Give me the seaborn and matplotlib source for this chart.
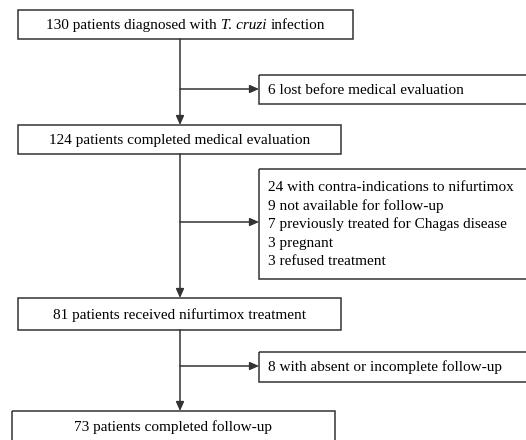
import seaborn as sns
import matplotlib.pyplot as plt
from matplotlib.patches import Rectangle

# counts in each stage of the flow
main_counts = [130, 124, 81, 73]
# each label is a list of (text, italic) pieces, joined by spaces
main_labels = [
    [("130 patients diagnosed with", False), ("T. cruzi", True), ("infection", False)],
    [("124 patients completed medical evaluation", False)],
    [("81 patients received nifurtimox treatment", False)],
    [("73 patients completed follow-up", False)],
]
excluded_counts = [[6], [24, 9, 7, 3, 3], [8]]
excluded_reasons = [
    ["lost before medical evaluation"],
    ["with contra-indications to nifurtimox",
     "not available for follow-up",
     "previously treated for Chagas disease",
     "pregnant",
     "refused treatment"],
    ["with absent or incomplete follow-up"],
]

sns.set_theme(style="white")
plt.rcParams['font.family'] = ['Liberation Serif', 'DejaVu Serif']

fig = plt.figure(figsize=(5.26, 4.40), dpi=100)
ax = fig.add_axes([0, 0, 1, 1])
ax.set_xlim(0, 526)
ax.set_ylim(440, 0)
ax.axis('off')

lc = '#333333'
fs = 11.0

# main boxes (x0, x1, y0, y1) in pixels
main_boxes = [(18, 353, 10, 39), (18, 341, 125, 154), (18, 341, 298, 330), (12, 335, 411, 446)]
side_boxes = [(259, 530, 75, 104), (259, 530, 169, 279), (259, 530, 352, 382)]
spine_x = 180
branch_y = [89, 222, 366]

renderer = fig.canvas.get_renderer()
# width of a space in pixels
t1 = ax.text(0, 0, "a a", fontsize=fs)
t2 = ax.text(0, 0, "aa", fontsize=fs)
space_w = t1.get_window_extent(renderer).width - t2.get_window_extent(renderer).width
t1.remove()
t2.remove()

for (x0, x1, y0, y1), parts in zip(main_boxes, main_labels):
    ax.add_patch(Rectangle((x0, y0), x1 - x0, y1 - y0, fill=False, ec=lc, lw=1.1))
    yb = ((y0 + y1) / 2 if y1 < 440 else 427) + 4.5
    texts = []
    for s, it in parts:
        t = ax.text(0, yb, s, ha='left', va='baseline', fontsize=fs, color='black',
                    fontstyle='italic' if it else 'normal')
        texts.append(t)
    widths = [t.get_window_extent(renderer).width for t in texts]
    total = sum(widths) + space_w * (len(texts) - 1)
    x = (x0 + x1) / 2 - total / 2
    for t, w in zip(texts, widths):
        t.set_x(x)
        x += w + space_w

for (x0, x1, y0, y1), nums, reasons in zip(side_boxes, excluded_counts, excluded_reasons):
    ax.add_patch(Rectangle((x0, y0), x1 - x0, y1 - y0, fill=False, ec=lc, lw=1.1))
    lines = [f"{n} {r}" for n, r in zip(nums, reasons)]
    n = len(lines)
    step = 18.7
    yc = (y0 + y1) / 2 + 0.5
    for i, t in enumerate(lines):
        ax.text(268, yc + (i - (n - 1) / 2) * step, t, ha='left', va='center',
                fontsize=fs, color='black')

arrow = dict(arrowstyle='-|>,head_length=0.45,head_width=0.2', color=lc, lw=1.1,
             shrinkA=0, shrinkB=0)
for i in range(3):
    top = main_boxes[i][3]
    bot = main_boxes[i + 1][2]
    ax.annotate('', xy=(spine_x, bot), xytext=(spine_x, top), arrowprops=arrow)
    ax.annotate('', xy=(side_boxes[i][0], branch_y[i]), xytext=(spine_x, branch_y[i]),
                arrowprops=arrow)

fig.savefig('out.png', dpi=100, facecolor='white')
